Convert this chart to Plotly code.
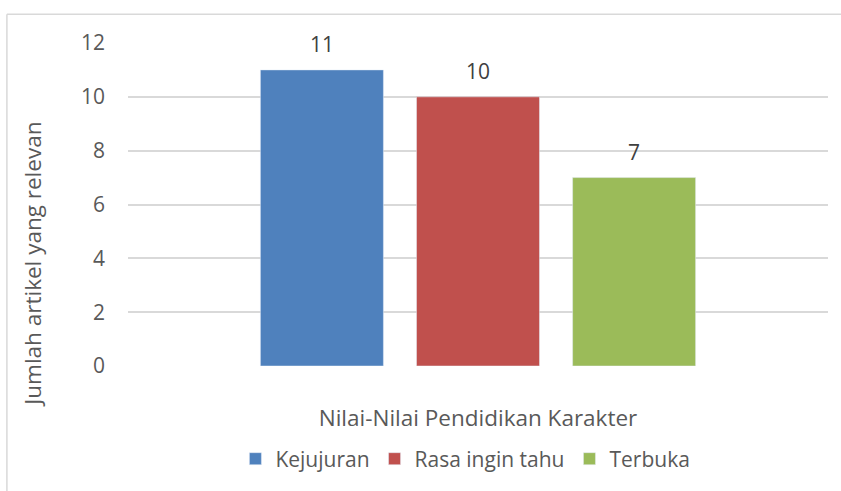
import plotly.graph_objects as go

category = ["Nilai-Nilai Pendidikan Karakter"]
series_names = ["Kejujuran", "Rasa ingin tahu", "Terbuka"]
series_values = [[11], [10], [7]]
series_colors = ["#4f81bd", "#c0504d", "#9bbb59"]
y_ticks = [0, 2, 4, 6, 8, 10, 12]

font_name = "Open Sans, sans-serif"
grey = "#595959"

fig = go.Figure()
for name, vals, col in zip(series_names, series_values, series_colors):
    fig.add_trace(go.Bar(x=category, y=vals, name=name, marker_color=col))

# data labels sit ~25px above each bar (Excel style)
labels = []
for i, vals in enumerate(series_values):
    labels.append(dict(text=str(vals[0]), x=category[0], y=vals[0], xref="x", yref="y",
                       xshift=(i - 1) * 156, yshift=26, showarrow=False,
                       font=dict(size=21, color="#404040")))

fig.update_layout(
    width=841, height=491,
    margin=dict(l=128, r=13, t=43, b=122),
    paper_bgcolor="white", plot_bgcolor="white",
    font=dict(family=font_name, size=22, color=grey),
    barmode="group", bargap=0.331, bargroupgap=0.212,
    showlegend=True,
    legend=dict(orientation="h", x=0.482, xanchor="center", y=-0.288, yanchor="middle",
                font=dict(size=21, color=grey), itemwidth=30, traceorder="normal"),
    xaxis=dict(showgrid=False, ticks="", ticklabelstandoff=36, zeroline=False,
               tickfont=dict(size=22.5, color=grey), showline=False, automargin=False),
    yaxis=dict(range=[0, 12], tickvals=y_ticks, showgrid=True, gridcolor="#d9d9d9",
               gridwidth=1.5, zeroline=False, ticks="", ticklabelstandoff=22,
               tickfont=dict(size=21, color=grey), automargin=False),
    annotations=labels + [dict(text="Jumlah artikel yang relevan", textangle=-90,
                               xref="paper", yref="paper", x=-0.136, y=0.316,
                               xanchor="center", yanchor="middle", showarrow=False,
                               font=dict(size=22.5, color=grey))],
    shapes=[
        dict(type="line", xref="paper", yref="paper", x0=-0.173, x1=1.1, y0=1.089, y1=1.089,
             line=dict(color="#d9d9d9", width=1.5)),
        dict(type="line", xref="paper", yref="paper", x0=-0.173, x1=-0.173, y0=1.089, y1=-0.5,
             line=dict(color="#d9d9d9", width=1.5)),
    ],
)

fig.write_html("out.html", config={"displayModeBar": False},
               post_script="document.body.style.margin='0';")
